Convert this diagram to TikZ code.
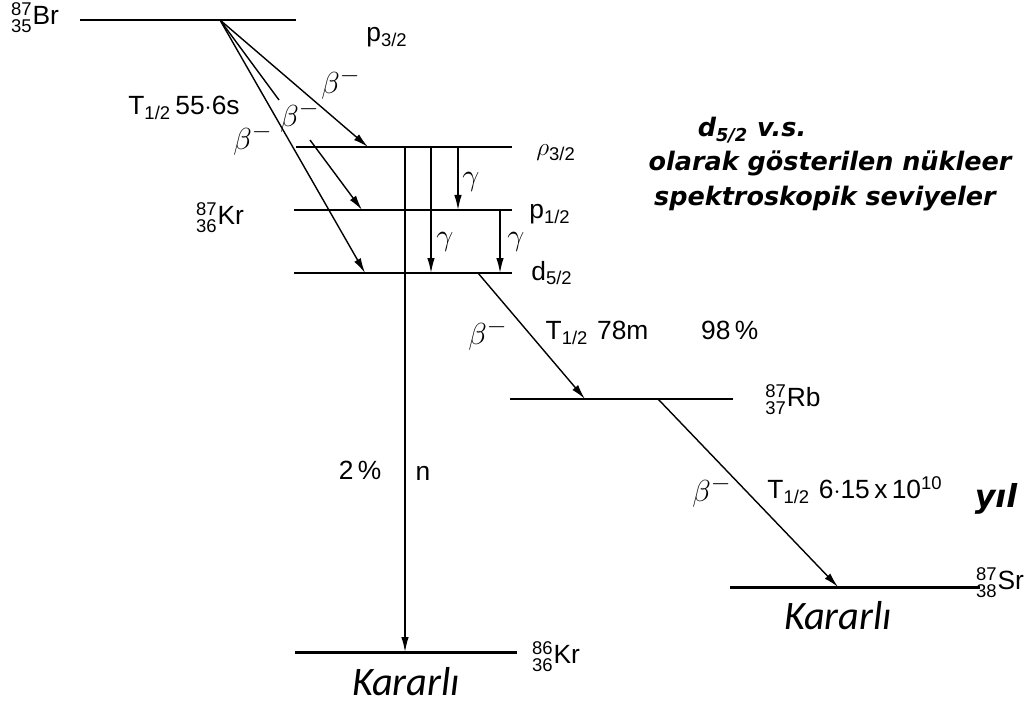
\documentclass[tikz,border=0pt]{standalone}
\usepackage{amsmath}
\usepackage{fontspec}
\setmainfont{Liberation Sans}
\newfontfamily\handfont{DejaVu Sans}
\newfontfamily\stablefont{Carlito}
\usetikzlibrary{arrows.meta}
\tikzset{levelline/.style={line width=1.7pt}}
\tikzset{decay/.style={line width=0.8pt,-{Latex[length=3mm,width=1.5mm]}}}
\tikzset{plainline/.style={line width=0.8pt}}
\tikzset{lbl/.style={inner sep=1pt,font=\fontsize{15}{17}\selectfont}}
\tikzset{greeklbl/.style={inner sep=1pt,font=\fontsize{19}{21}\selectfont}}
\tikzset{notelbl/.style={inner sep=1pt,font=\handfont\bfseries\itshape\fontsize{14.5}{17}\selectfont}}
\tikzset{stablelbl/.style={inner sep=0pt,anchor=base,font=\stablefont\itshape\fontsize{23}{26}\selectfont}}
\newcommand{\iso}[3]{${}^{\text{#1}}_{\text{#2}}$#3}

\begin{document}
\begin{tikzpicture}[x=0.2mm,y=-0.2mm]
\useasboundingbox (0,0) rectangle (1025,704);

% Br ground level and the point the beta branches leave from
\coordinate (br1) at (80,20);
\coordinate (br2) at (296,20);
\coordinate (brsrc) at (220,20);
\draw[levelline] (br1) -- (br2);

% Kr-87 levels p3/2, p1/2, d5/2
\coordinate (kra1) at (296,147); \coordinate (kra2) at (512,147);
\coordinate (krb1) at (294,210); \coordinate (krb2) at (512,210);
\coordinate (krc1) at (294,273); \coordinate (krc2) at (512,273);
\draw[levelline] (kra1) -- (kra2);
\draw[levelline] (krb1) -- (krb2);
\draw[levelline] (krc1) -- (krc2);

% Rb, Sr and Kr-86 levels
\coordinate (rb1) at (510,399); \coordinate (rb2) at (733,399);
\coordinate (sr1) at (730,587); \coordinate (sr2) at (980,587);
\coordinate (kr1) at (295,652); \coordinate (kr2) at (517,652);
\draw[levelline] (rb1) -- (rb2);
\draw[levelline] (sr1) -- (sr2);
\draw[levelline] (kr1) -- (kr2);

% Beta decays Br -> Kr
\coordinate (b1e) at (368,147);
\coordinate (b2m) at (279,100);
\coordinate (b2s) at (310,140);
\coordinate (b2e) at (362,210);
\coordinate (b3e) at (365,273);
\draw[decay] (brsrc) -- (b1e);
\draw[plainline] (brsrc) -- (b2m);
\draw[decay] (b2s) -- (b2e);
\draw[decay] (brsrc) -- (b3e);

% Gamma transitions and neutron branch
\coordinate (na) at (405,147); \coordinate (nb) at (405,652);
\coordinate (ga1) at (431,147); \coordinate (ga2) at (431,273);
\coordinate (gb1) at (458,147); \coordinate (gb2) at (458,210);
\coordinate (gc1) at (500,210); \coordinate (gc2) at (500,273);
\draw[decay] (na) -- (nb);
\draw[decay] (ga1) -- (ga2);
\draw[decay] (gb1) -- (gb2);
\draw[decay] (gc1) -- (gc2);

% Kr -> Rb -> Sr
\coordinate (kd1) at (478,273); \coordinate (kd2) at (585,399);
\coordinate (rd1) at (658,399); \coordinate (rd2) at (838,587);
\draw[decay] (kd1) -- (kd2);
\draw[decay] (rd1) -- (rd2);

% Labels
\node[lbl] (lbr) at (35,18) {\iso{87}{35}{Br}};
\node[lbl] (lbrp) at (387,37) {p$_{\text{3/2}}$};
\node[greeklbl] (lb1) at (341,84) {$\beta^-$};
\node[greeklbl] (lb2) at (300,117) {$\beta^-$};
\node[greeklbl] (lb3) at (253,140) {$\beta^-$};
\node[lbl] (lthalf) at (184,108) {T$_{\text{1/2}}$\,55$\cdot$6s};
\node[lbl] (lkr) at (220,218) {\iso{87}{36}{Kr}};
\node[lbl] (lp3) at (556,153) {$\rho_{\text{3/2}}$};
\node[lbl] (lp1) at (550,214) {p$_{\text{1/2}}$};
\node[lbl] (ld5) at (552,273) {d$_{\text{5/2}}$};
\node[greeklbl] (lg1) at (471,182) {$\gamma$};
\node[greeklbl] (lg2) at (445,242) {$\gamma$};
\node[greeklbl] (lg3) at (516,242) {$\gamma$};
\node[lbl] (lpct) at (360,470) {2\,\%};
\node[lbl] (ln) at (423,473) {n};
\node[greeklbl] (lb4) at (488,335) {$\beta^-$};
\node[lbl] (lkrt) at (652,333) {T$_{\text{1/2}}$\,\,78m\qquad 98\,\%};
\node[lbl] (lrb) at (793,400) {\iso{87}{37}{Rb}};
\node[greeklbl] (lb5) at (712,492) {$\beta^-$};
\node[lbl] (lrbt) at (855,490) {T$_{\text{1/2}}$\,\,6$\cdot$15\,x\,10$^{\text{10}}$};
\node[notelbl,font=\handfont\bfseries\itshape\fontsize{18}{20}\selectfont] (lyil) at (996,499) {yıl};
\node[lbl] (lsr) at (1000,583) {\iso{87}{38}{Sr}};
\node[lbl] (lkr86) at (556,657) {\iso{86}{36}{Kr}};
\node[stablelbl] (lst1) at (406,695) {Kararlı};
\node[stablelbl] (lst2) at (838,629) {Kararlı};

% Note on the right
\node[notelbl] (ln1) at (752,130) {d$_{\text{5/2}}$ v.s.};
\node[notelbl] (ln2) at (830,163) {olarak gösterilen nükleer};
\node[notelbl] (ln3) at (825,199) {spektroskopik seviyeler};

\end{tikzpicture}
\end{document}
